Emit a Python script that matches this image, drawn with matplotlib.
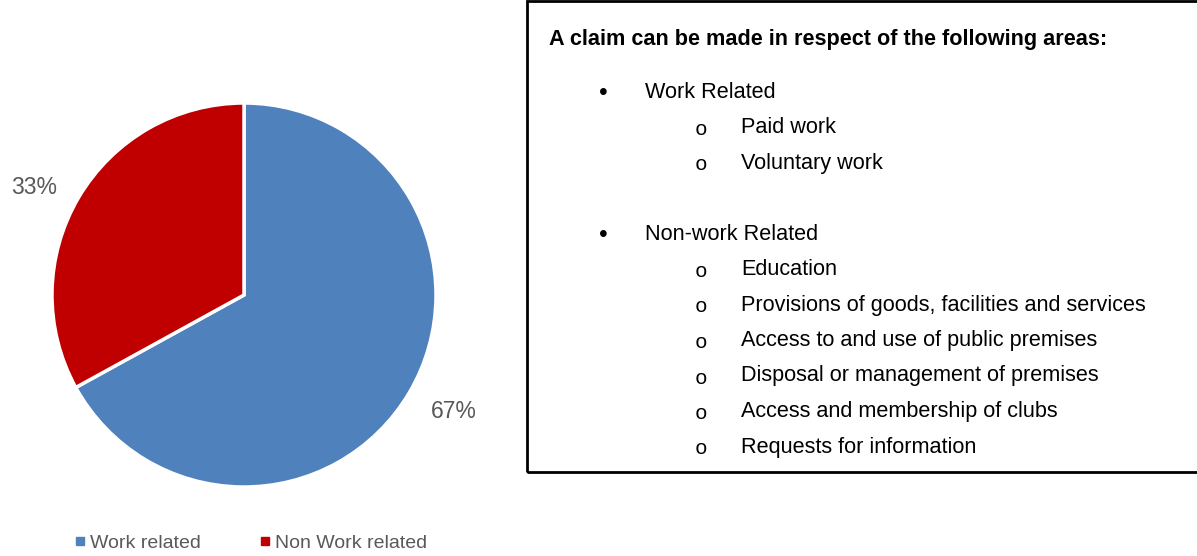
import numpy as np
import matplotlib.pyplot as plt
from matplotlib.patches import Rectangle
from matplotlib.lines import Line2D
from matplotlib import font_manager as fm

# données
labels = ["Work related", "Non Work related"]
values = [67, 33]
colors = ["#4F81BD", "#C00000"]

box_title = "A claim can be made in respect of the following areas:"
groups = [
    ("Work Related", ["Paid work", "Voluntary work"]),
    ("Non-work Related", ["Education",
                          "Provisions of goods, facilities and services",
                          "Access to and use of public premises",
                          "Disposal or management of premises",
                          "Access and membership of clubs",
                          "Requests for information"]),
]

names = {f.name for f in fm.fontManager.ttflist}
narrow = "Liberation Sans Narrow" if "Liberation Sans Narrow" in names else "Liberation Sans"

W, H = 1197, 556
fig = plt.figure(figsize=(W / 100, H / 100), dpi=100)

# camembert
cx, cy, r = 244, 295, 192
ax = fig.add_axes([(cx - r) / W, (H - cy - r) / H, 2 * r / W, 2 * r / H])
wedges, _ = ax.pie(values, colors=colors, startangle=90, counterclock=False,
                   wedgeprops=dict(edgecolor="white", linewidth=2.5))
tot = sum(values)
for w, v in zip(wedges, values):
    ang = np.deg2rad((w.theta1 + w.theta2) / 2 + 2.5)
    ax.text(1.24 * np.cos(ang), 1.24 * np.sin(ang) - 0.022, f"{100 * v / tot:.0f}%",
            ha="center", va="center", color="#595959", fontsize=16.5,
            family="Liberation Sans")
ax.set_xlim(-1, 1)
ax.set_ylim(-1, 1)
ax.set_aspect("equal")

handles = [Line2D([], [], marker="s", linestyle="none", markersize=6,
                  markerfacecolor=c, markeredgecolor=c) for c in colors]
leg = fig.legend(handles, labels, loc="center left", bbox_to_anchor=(58 / W, 1 - 543 / H),
                 ncol=2, frameon=False, handlelength=0.5,
                 handletextpad=0.25, columnspacing=3.05,
                 prop=dict(family=narrow, size=14))
for t in leg.get_texts():
    t.set_color("#595959")

# encadré
fig.patches.append(Rectangle((527 / W, 1 - 472 / H), 700 / W, 471 / H,
                             transform=fig.transFigure, fill=False,
                             edgecolor="black", linewidth=2))
fs = 15.6
fig.text(549 / W, 1 - 39 / H, box_title, fontsize=fs, fontweight="bold",
         family=narrow, va="center")

y = 92
step = 35.5
for head, items in groups:
    fig.text(603 / W, 1 - (y + 1) / H, "\u2022", fontsize=18, family="Liberation Sans",
             va="center", ha="center")
    fig.text(645 / W, 1 - y / H, head, fontsize=fs, family=narrow, va="center")
    y += step
    for it in items:
        fig.text(701 / W, 1 - (y + 2) / H, "o", fontsize=15, family="Liberation Mono",
                 va="center", ha="center")
        fig.text(741 / W, 1 - y / H, it, fontsize=fs, family=narrow, va="center")
        y += step
    y += step

fig.savefig("out.png", dpi=100)
